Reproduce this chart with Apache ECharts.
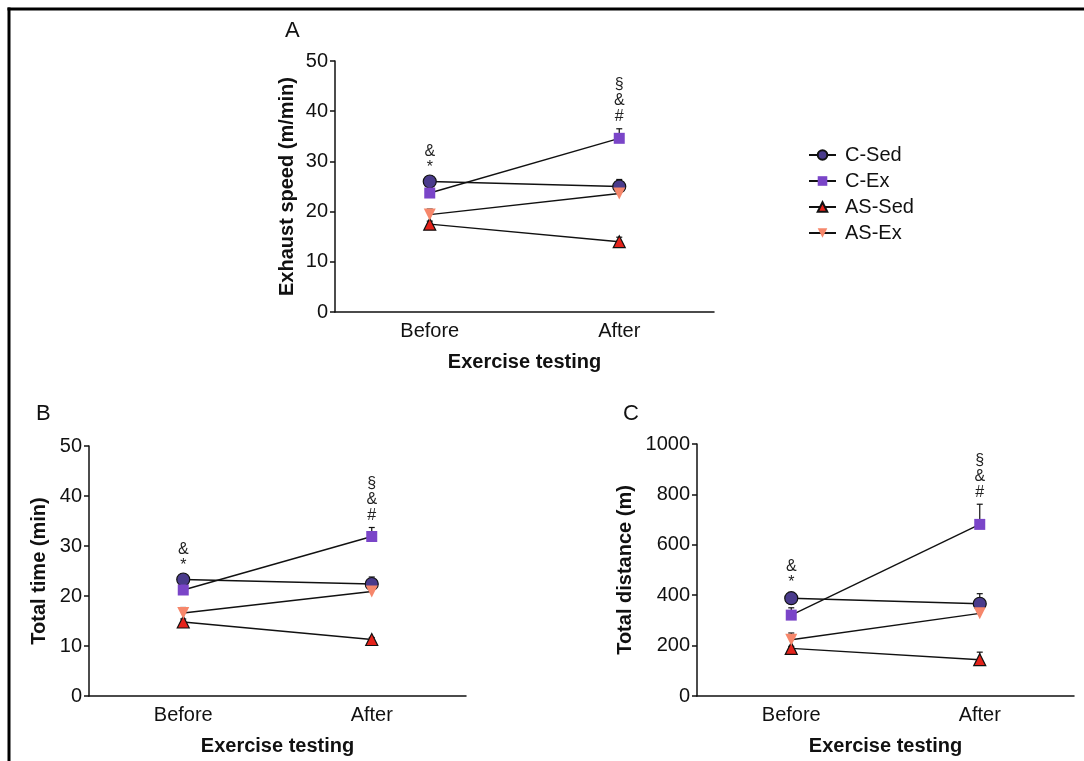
<!DOCTYPE html>
<html><head><meta charset="utf-8">
<script src="https://cdn.jsdelivr.net/npm/echarts@6/dist/echarts.min.js"></script>
<style>html,body{margin:0;padding:0;background:#fff}#c{width:1084px;height:761px}</style>
</head><body><div id="c"></div>
<script>
const categories = ['Before', 'After'];
const groupNames = ['C-Sed', 'C-Ex', 'AS-Sed', 'AS-Ex'];

// Panel A: exhaust speed (m/min), rows follow groupNames, columns follow categories
const speedMeans = [[26.0, 25.0], [23.7, 34.6], [17.5, 14.0], [19.4, 23.6]];
const speedErrors = [[0.4, 1.4], [0.8, 1.9], [0.6, 0.9], [1.1, 0.5]];
const speedTicks = [0, 10, 20, 30, 40, 50];

// Panel B: total time (min)
const timeMeans = [[23.3, 22.4], [21.2, 31.9], [14.8, 11.3], [16.6, 20.9]];
const timeErrors = [[0.4, 1.4], [0.6, 1.8], [0.6, 0.4], [1.1, 0.5]];
const timeTicks = [0, 10, 20, 30, 40, 50];

// Panel C: total distance (m)
const distanceMeans = [[388, 366], [321, 681], [189, 144], [223, 328]];
const distanceErrors = [[13, 40], [29, 80], [8, 30], [27, 8]];
const distanceTicks = [0, 200, 400, 600, 800, 1000];

// significance marks, rows follow groupNames, columns follow categories
const sigMarks = [['&\n*', ''], ['', '§\n&\n#'], ['', ''], ['', '']];

const FONT = "'Liberation Sans', Arial, sans-serif";
const INK = '#111';

const groupStyles = [
  { symbol: 'circle', symbolSize: 13, symbolRotate: 0, itemStyle: { color: '#4a3b8c', borderColor: '#111', borderWidth: 1.2 } },
  { symbol: 'rect', symbolSize: 11, symbolRotate: 0, itemStyle: { color: '#7a45c8', borderColor: '#7a45c8', borderWidth: 0 } },
  { symbol: 'triangle', symbolSize: 12, symbolRotate: 0, itemStyle: { color: '#e5231b', borderColor: '#111', borderWidth: 1.2 } },
  { symbol: 'triangle', symbolSize: 12, symbolRotate: 180, itemStyle: { color: '#f6876b', borderColor: '#f6876b', borderWidth: 0 } }
];

const panels = [
  { letter: 'A', means: speedMeans, errors: speedErrors, ticks: speedTicks, yName: 'Exhaust speed (m/min)',
    grid: { left: 335, top: 61, width: 379, height: 251 }, yGap: 38, letterPos: { left: 280, top: 15 } },
  { letter: 'B', means: timeMeans, errors: timeErrors, ticks: timeTicks, yName: 'Total time (min)',
    grid: { left: 89, top: 446, width: 377, height: 250 }, yGap: 40, letterPos: { left: 31, top: 398 } },
  { letter: 'C', means: distanceMeans, errors: distanceErrors, ticks: distanceTicks, yName: 'Total distance (m)',
    grid: { left: 697, top: 444, width: 377, height: 252 }, yGap: 62, letterPos: { left: 618, top: 398 } }
];

function makeErrorRender(marksRow) {
  return function (params, api) {
    const x = api.value(0), m = api.value(1), e = api.value(2);
    const base = api.coord([x, m]);
    const top = api.coord([x, m + e]);
    const children = [
      { type: 'line', shape: { x1: base[0], y1: base[1], x2: top[0], y2: top[1] }, style: { stroke: INK, lineWidth: 1.2 } },
      { type: 'line', shape: { x1: top[0] - 3, y1: top[1], x2: top[0] + 3, y2: top[1] }, style: { stroke: INK, lineWidth: 1.2 } }
    ];
    const mark = marksRow[params.dataIndex];
    if (mark) {
      children.push({
        type: 'text',
        style: { x: top[0], y: top[1] - 4, text: mark, align: 'center', verticalAlign: 'bottom',
                 font: '16px ' + FONT, lineHeight: 16, fill: '#222' }
      });
    }
    return { type: 'group', children: children };
  };
}

const grids = [], xAxes = [], yAxes = [], series = [], titles = [];
panels.forEach(function (p, pi) {
  grids.push(Object.assign({ containLabel: false }, p.grid));
  xAxes.push({
    type: 'category', gridIndex: pi, data: categories, boundaryGap: true,
    axisLine: { lineStyle: { color: INK, width: 1.5 } }, axisTick: { show: false },
    axisLabel: { color: INK, fontFamily: FONT, fontSize: 20, margin: 9 },
    name: 'Exercise testing', nameLocation: 'middle', nameGap: 40,
    nameTextStyle: { color: INK, fontFamily: FONT, fontSize: 20, fontWeight: 'bold' }
  });
  yAxes.push({
    type: 'value', gridIndex: pi, min: p.ticks[0], max: p.ticks[p.ticks.length - 1], interval: p.ticks[1] - p.ticks[0],
    axisLine: { show: true, lineStyle: { color: INK, width: 1.5 } },
    axisTick: { show: true, length: 5, inside: false, lineStyle: { color: INK, width: 1.5 } },
    axisLabel: { color: INK, fontFamily: FONT, fontSize: 20, margin: 7, formatter: function (v) { return String(v); } },
    splitLine: { show: false },
    name: p.yName, nameLocation: 'middle', nameGap: p.yGap, nameRotate: 90,
    nameTextStyle: { color: INK, fontFamily: FONT, fontSize: 20, fontWeight: 'bold' }
  });
  titles.push({ text: p.letter, left: p.letterPos.left, top: p.letterPos.top,
    textStyle: { color: INK, fontFamily: FONT, fontSize: 22, fontWeight: 'normal' } });

  groupNames.forEach(function (name, gi) {
    const st = groupStyles[gi];
    series.push({
      type: 'custom', name: 'err-' + p.letter + '-' + name, xAxisIndex: pi, yAxisIndex: pi, z: 1,
      renderItem: makeErrorRender(sigMarks[gi]),
      encode: { x: 0, y: 1 },
      data: categories.map(function (c, ci) { return [ci, p.means[gi][ci], p.errors[gi][ci]]; }),
      clip: false, silent: true
    });
    series.push({
      type: 'line', name: name, xAxisIndex: pi, yAxisIndex: pi, z: 3,
      data: p.means[gi],
      symbol: st.symbol, symbolSize: st.symbolSize, symbolRotate: st.symbolRotate,
      showSymbol: true, itemStyle: st.itemStyle,
      lineStyle: { color: INK, width: 1.4 },
      emphasis: { disabled: true }, animation: false
    });
  });
});

const chart = echarts.init(document.getElementById('c'), null, { renderer: 'canvas' });
chart.setOption({
  backgroundColor: '#fff',
  animation: false,
  title: titles,
  grid: grids,
  xAxis: xAxes,
  yAxis: yAxes,
  legend: {
    data: groupNames, orient: 'vertical', left: 803, top: 140,
    itemWidth: 27, itemHeight: 12, itemGap: 6,
    textStyle: { color: INK, fontFamily: FONT, fontSize: 20, padding: [0, 0, 0, 4] }
  },
  graphic: [
    { type: 'line', shape: { x1: 7.5, y1: 9, x2: 1084, y2: 9 }, style: { stroke: '#000', lineWidth: 3 } },
    { type: 'line', shape: { x1: 9, y1: 7.5, x2: 9, y2: 761 }, style: { stroke: '#000', lineWidth: 3 } }
  ],
  series: series
});
</script></body></html>
